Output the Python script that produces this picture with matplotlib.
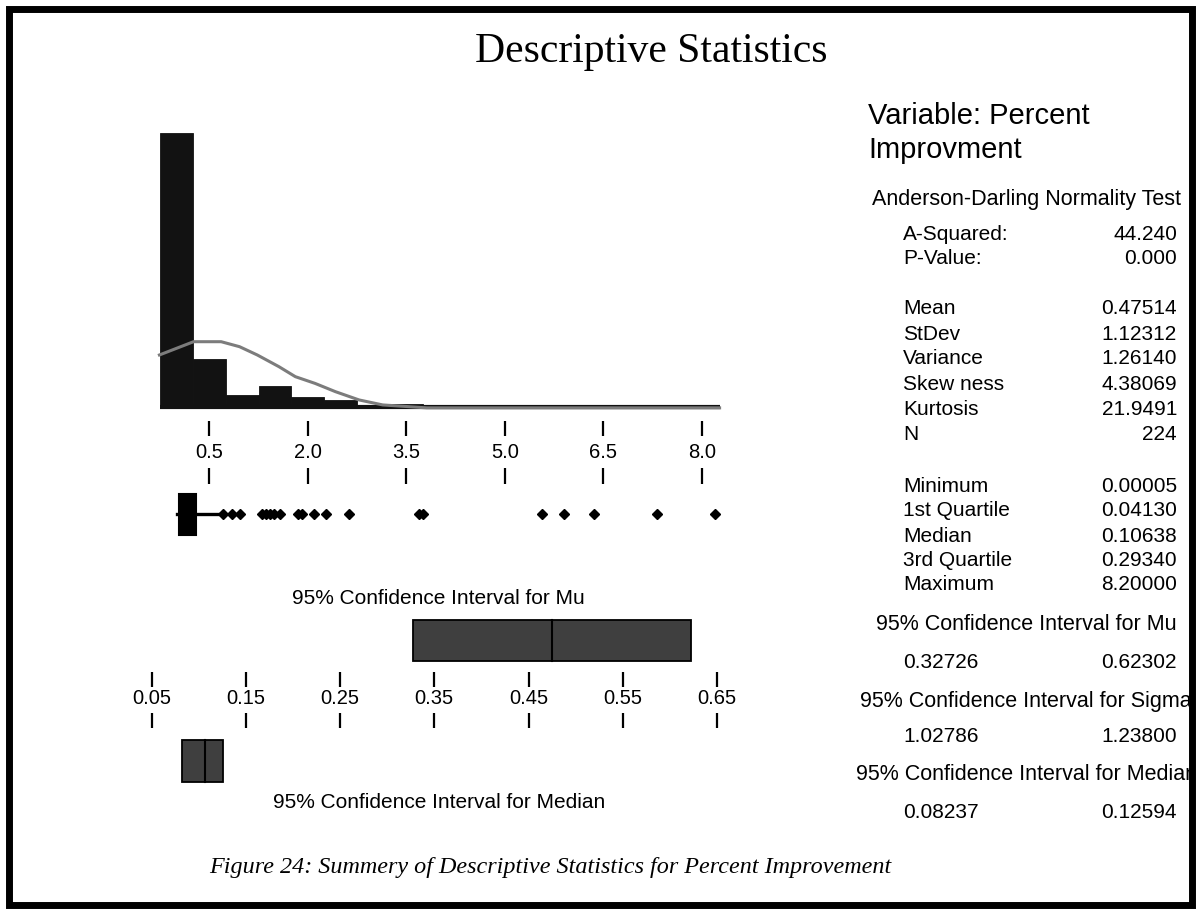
import matplotlib
matplotlib.use("Agg")
import matplotlib.pyplot as plt
from matplotlib.patches import Rectangle
from matplotlib.transforms import Bbox

W, H = 1196, 909

# Data
bin_centers = [0.0, 0.5, 1.0, 1.5, 2.0, 2.5, 3.0, 3.5, 4.0, 4.5, 5.0, 5.5, 6.0, 6.5, 7.0, 7.5, 8.0]
bin_counts = [159, 28, 7, 12, 6, 4, 1, 2, 0, 0, 0, 1, 1, 1, 1, 0, 1]
curve_x = [-0.26, 0.26, 0.68, 0.96, 1.23, 1.56, 1.81, 2.11, 2.42, 2.78, 3.14, 3.81, 8.27]
curve_y = [30.2, 37.9, 37.9, 35.0, 30.2, 23.4, 17.6, 13.7, 8.9, 4.1, 1.2, -0.5, -0.5]
hist_ticks = [0.5, 2.0, 3.5, 5.0, 6.5, 8.0]

q1, q3 = 0.04130, 0.29340
minimum = 0.00005
whisker_hi = 0.67
outliers = [0.71, 0.85, 0.97, 1.30, 1.36, 1.42, 1.48, 1.58, 1.85, 1.91, 2.09, 2.28,
            2.62, 3.69, 3.76, 5.56, 5.90, 6.35, 7.32, 8.20]

mean = 0.47514
median = 0.10638
mu_ci = [0.32726, 0.62302]
median_ci = [0.08237, 0.12594]
sigma_ci = [1.02786, 1.23800]
ci_ticks = [0.05, 0.15, 0.25, 0.35, 0.45, 0.55, 0.65]

stat_labels = ["A-Squared:", "P-Value:", "Mean", "StDev", "Variance", "Skew ness",
               "Kurtosis", "N", "Minimum", "1st Quartile", "Median", "3rd Quartile",
               "Maximum"]
stat_values = ["44.240", "0.000", "0.47514", "1.12312", "1.26140", "4.38069",
               "21.9491", "224", "0.00005", "0.04130", "0.10638", "0.29340", "8.20000"]

plt.rcParams['font.family'] = ['Liberation Sans', 'DejaVu Sans']
fig = plt.figure(figsize=(W / 100, H / 100), dpi=100)
fig.patch.set_facecolor('white')


def px_axes(left, top, right, bottom):
    a = fig.add_axes([left / W, 1 - bottom / H, (right - left) / W, (bottom - top) / H])
    a.set_axis_off()
    return a


def ftext(x, y, s, **kw):
    return fig.text(x / W, 1 - y / H, s, **kw)


# histogram (x: px = 176.5 + 65.67*v ; y: 1 count = 1.723 px, zero at y=407)
ax_h = px_axes(150, 120, 730, 410)
ax_h.set_xlim((150 - 176.5) / 65.67, (730 - 176.5) / 65.67)
ax_h.set_ylim(-(410 - 407) / 1.723, (407 - 120) / 1.723)
ax_h.bar(bin_centers, bin_counts, width=0.5, color='#121212', edgecolor='#121212', linewidth=0.6)
ax_h.plot([-0.25, 8.27], [0, 0], color='#121212', lw=3, solid_capstyle='butt')
ax_h.plot(curve_x, curve_y, color='#7c7c7c', lw=2.2, zorder=5)

# histogram axis + boxplot (y in pixel units)
ax_d = px_axes(150, 415, 730, 545)
ax_d.set_xlim((150 - 176.5) / 65.67, (730 - 176.5) / 65.67)
ax_d.set_ylim(545, 415)
ax_d.vlines(hist_ticks, 421, 436, color='black', lw=1.6)
ax_d.vlines(hist_ticks, 468, 484, color='black', lw=1.6)
for t in hist_ticks:
    ax_d.text(t, 452, f"{t:.1f}", ha='center', va='center', fontsize=14.5)
ax_d.plot([q3, whisker_hi], [514, 514], color='black', lw=2.4, solid_capstyle='butt')
ax_d.plot([minimum, q1], [514, 514], color='black', lw=2.4)
ax_d.add_patch(Rectangle((q1, 494), q3 - q1, 41, facecolor='black', edgecolor='black', lw=1.5))
ax_d.plot(outliers, [514] * len(outliers), 'D', color='black', markersize=5)

# confidence interval plot (x: px = 151.7 + 942*(v-0.05))
ax_c = px_axes(120, 605, 740, 790)
ax_c.set_xlim(0.05 + (120 - 151.7) / 942, 0.05 + (740 - 151.7) / 942)
ax_c.set_ylim(790, 605)
ax_c.add_patch(Rectangle((mu_ci[0], 620), mu_ci[1] - mu_ci[0], 41,
                         facecolor='#3f3f3f', edgecolor='black', lw=1.3))
ax_c.plot([mean, mean], [620, 661], color='black', lw=1.5)
ax_c.add_patch(Rectangle((median_ci[0], 740), median_ci[1] - median_ci[0], 42,
                         facecolor='#3f3f3f', edgecolor='black', lw=1.3))
ax_c.plot([median, median], [740, 782], color='black', lw=1.5)
ax_c.vlines(ci_ticks, 672, 687, color='black', lw=1.6)
ax_c.vlines(ci_ticks, 713, 728, color='black', lw=1.6)
for t in ci_ticks:
    ax_c.text(t, 699, f"{t:.2f}", ha='center', va='center', fontsize=14.5)

ftext(438, 598, "95% Confidence Interval for Mu", ha='center', va='center', fontsize=15)
ftext(439, 802, "95% Confidence Interval for Median", ha='center', va='center', fontsize=15)

# title and caption
ftext(651, 62, "Descriptive Statistics", ha='center', va='baseline', fontsize=30,
      family='Liberation Serif')
ftext(550, 868, "Figure 24: Summery of Descriptive Statistics for Percent Improvement",
      ha='center', va='center', fontsize=17.4, family='Liberation Serif', style='italic')

# statistics panel
ftext(868, 124, "Variable: Percent", ha='left', va='baseline', fontsize=21)
ftext(868, 158, "Improvment", ha='left', va='baseline', fontsize=21)
clip = Bbox.from_extents(0, 0, 1189, H)
ftext(1026, 199, "Anderson-Darling Normality Test", ha='center', va='center', fontsize=15.5)
row_y = [235, 258, 309, 334, 359, 384, 409, 435, 486, 510, 536, 560, 585]
for lab, val, y in zip(stat_labels, stat_values, row_y):
    ftext(903, y, lab, ha='left', va='center', fontsize=15)
    ftext(1177, y, val, ha='right', va='center', fontsize=15)

ci_blocks = [("95% Confidence Interval for Mu", mu_ci, 625, 662),
             ("95% Confidence Interval for Sigma", sigma_ci, 702, 737),
             ("95% Confidence Interval for Median", median_ci, 775, 812)]
for head, vals, yh, yv in ci_blocks:
    t = ftext(1026, yh, head, ha='center', va='center', fontsize=15.5)
    t.set_clip_on(True)
    t.set_clip_box(clip)
    ftext(903, yv, f"{vals[0]:.5f}", ha='left', va='center', fontsize=15)
    ftext(1177, yv, f"{vals[1]:.5f}", ha='right', va='center', fontsize=15)

# outer frame
fig.patches.append(Rectangle((9 / W, 1 - 905 / H), (1192 - 9) / W, (905 - 9) / H,
                             transform=fig.transFigure, fill=False, edgecolor='black', lw=5))

fig.savefig("out.png", dpi=100)
